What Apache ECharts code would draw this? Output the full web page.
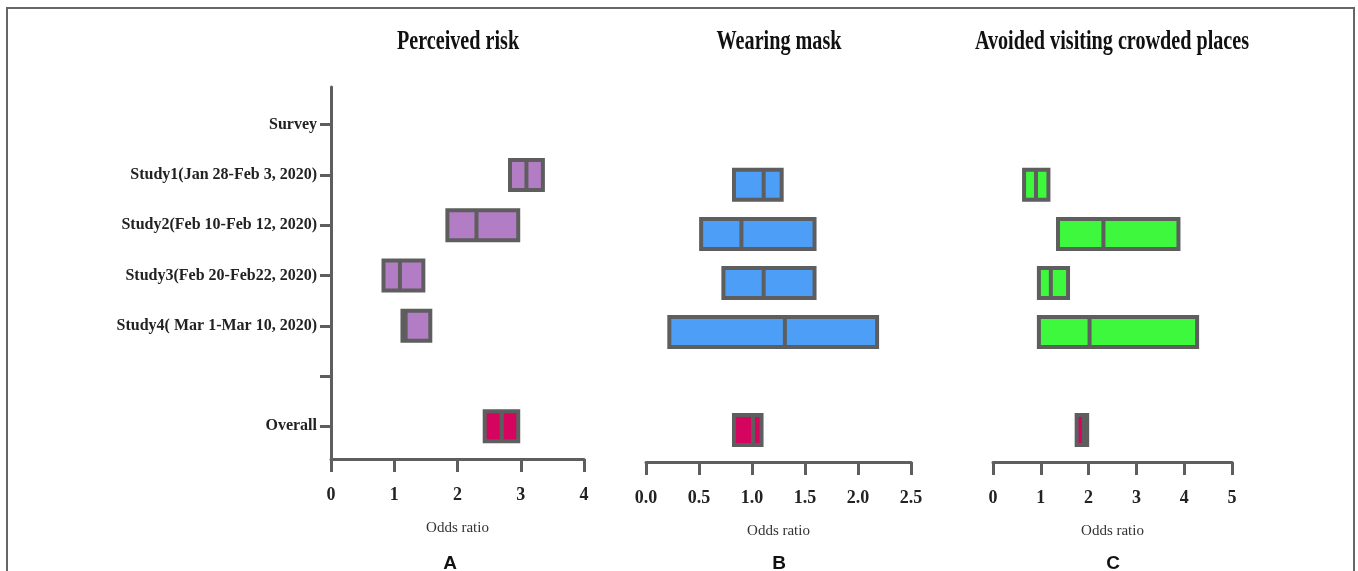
<!DOCTYPE html>
<html>
<head>
<meta charset="utf-8">
<script src="https://cdn.jsdelivr.net/npm/echarts@6/dist/echarts.min.js"></script>
<style>
html,body{margin:0;padding:0;background:#fff;}
#chart{width:1358px;height:571px;}
</style>
</head>
<body>
<div id="chart"></div>
<script>
const categories = ['Survey', 'Study1(Jan 28-Feb 3, 2020)', 'Study2(Feb 10-Feb 12, 2020)', 'Study3(Feb 20-Feb22, 2020)', 'Study4( Mar 1-Mar 10, 2020)', '', 'Overall'];
const rowPositions = [0, 1, 2, 3, 4, 5, 6];

const panelTitles = ['Perceived risk', 'Wearing mask', 'Avoided visiting crowded places'];
const panelLetters = ['A', 'B', 'C'];

// Perceived risk
const riskLow  = [null, 2.83, 1.84, 0.83, 1.13, null, 2.43];
const riskOR   = [null, 3.09, 2.30, 1.09, 1.18, null, 2.70];
const riskHigh = [null, 3.35, 2.96, 1.46, 1.57, null, 2.96];

// Wearing mask
const maskLow  = [null, 0.83, 0.52, 0.73, 0.22, null, 0.83];
const maskOR   = [null, 1.11, 0.90, 1.11, 1.31, null, 1.01];
const maskHigh = [null, 1.28, 1.59, 1.59, 2.18, null, 1.09];

// Avoided visiting crowded places
const crowdLow  = [null, 0.65, 1.36, 0.96, 0.96, null, 1.75];
const crowdOR   = [null, 0.90, 2.31, 1.21, 2.02, null, 1.90];
const crowdHigh = [null, 1.16, 3.88, 1.57, 4.27, null, 1.97];

const xMax = [4, 2.5, 5];
const xInterval = [1, 0.5, 1];

const panelColors = ['#b27dc5', '#4d9ef6', '#3ef83e'];
const overallColor = '#d4045f';
const edgeColor = '#5e5e5e';
const serif = '"Liberation Serif", "Times New Roman", serif';

function buildData(lo, or, hi, color) {
  const out = [];
  for (let i = 0; i < lo.length; i++) {
    if (lo[i] == null) continue;
    out.push({
      value: [lo[i], hi[i], or[i], rowPositions[i]],
      itemStyle: { color: categories[i] === 'Overall' ? overallColor : color }
    });
  }
  return out;
}

function renderBox(params, api) {
  const row = api.value(3);
  const a = api.coord([api.value(0), row]);
  const b = api.coord([api.value(1), row]);
  const m = api.coord([api.value(2), row]);
  const h = 30;
  return {
    type: 'group',
    children: [
      { type: 'rect', shape: { x: a[0], y: a[1] - h / 2, width: b[0] - a[0], height: h },
        style: { fill: api.visual('color'), stroke: edgeColor, lineWidth: 4 } },
      { type: 'line', shape: { x1: m[0], y1: a[1] - h / 2, x2: m[0], y2: a[1] + h / 2 },
        style: { stroke: edgeColor, lineWidth: 4 } }
    ]
  };
}

const grids = [
  { left: 331, width: 253, top: 87, height: 372 },
  { left: 646, width: 265, top: 99, height: 363 },
  { left: 993, width: 239, top: 99, height: 363 }
];

const xAxes = grids.map((g, i) => ({
  type: 'value', gridIndex: i, min: 0, max: xMax[i], interval: xInterval[i],
  name: 'Odds ratio', nameLocation: 'middle', nameGap: 62,
  nameTextStyle: { fontFamily: serif, fontSize: 15, color: '#333' },
  axisLine: { show: true, onZero: false, lineStyle: { color: edgeColor, width: 3 } },
  axisTick: { show: true, length: 13, lineStyle: { color: edgeColor, width: 3 } },
  axisLabel: { fontFamily: serif, fontWeight: 'bold', fontSize: 18, color: '#222', margin: 27,
    formatter: v => i === 1 ? v.toFixed(1) : String(v) },
  splitLine: { show: false }
}));

const yAxes = grids.map((g, i) => ({
  type: 'value', gridIndex: i, inverse: true, min: -0.75, max: 6.65,
  show: i === 0,
  axisLine: { show: true, onZero: false, lineStyle: { color: edgeColor, width: 3 } },
  axisTick: { show: true, length: 11, customValues: rowPositions, lineStyle: { color: edgeColor, width: 3 } },
  axisLabel: { show: true, customValues: rowPositions, fontFamily: serif, fontWeight: 'bold', fontSize: 16, color: '#222', margin: 14,
    formatter: v => categories[Math.round(v)] },
  splitLine: { show: false }
}));

const lows = [riskLow, maskLow, crowdLow];
const ors = [riskOR, maskOR, crowdOR];
const highs = [riskHigh, maskHigh, crowdHigh];

const series = grids.map((g, i) => ({
  type: 'custom', xAxisIndex: i, yAxisIndex: i,
  renderItem: renderBox,
  encode: { x: [0, 1, 2], y: 3 },
  data: buildData(lows[i], ors[i], highs[i], panelColors[i])
}));

const titleCenters = [458, 779, 1112];
const letterCenters = [450, 779, 1113];

const graphics = [
  { type: 'rect', shape: { x: 7, y: 8, width: 1347, height: 620 }, style: { fill: 'none', stroke: '#666', lineWidth: 2 }, silent: true }
];
panelTitles.forEach((t, i) => {
  graphics.push({ type: 'text', x: titleCenters[i], y: 42, scaleX: 0.72,
    style: { text: t, fontFamily: serif, fontWeight: 'bold', fontSize: 28, fill: '#111', textAlign: 'center', textVerticalAlign: 'middle' } });
});
panelLetters.forEach((t, i) => {
  graphics.push({ type: 'text', x: letterCenters[i], y: 564,
    style: { text: t, fontFamily: '"Liberation Sans", Arial, sans-serif', fontWeight: 'bold', fontSize: 19, fill: '#111', textAlign: 'center', textVerticalAlign: 'middle' } });
});

const chart = echarts.init(document.getElementById('chart'), null, { renderer: 'canvas' });
chart.setOption({
  animation: false,
  backgroundColor: '#fff',
  grid: grids,
  xAxis: xAxes,
  yAxis: yAxes,
  series: series,
  graphic: graphics
});
</script>
</body>
</html>
